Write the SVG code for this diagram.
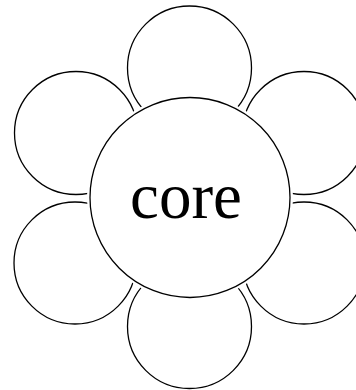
<svg xmlns="http://www.w3.org/2000/svg" width="356" height="390" viewBox="0 0 356 390">
<style>
.petal{fill:#fff;stroke:#000;stroke-width:1.3}
.halo{fill:#fff;stroke:#fff;stroke-width:6}
.core{fill:#fff;stroke:#000;stroke-width:1.3}
</style>
<rect width="356" height="390" fill="#fff"/>
<g id="petal-top"><circle class="petal" cx="189.5" cy="68" r="62"/></g>
<g id="petal-upper-left"><circle class="petal" cx="76" cy="133" r="61.5"/></g>
<g id="petal-upper-right"><circle class="petal" cx="304" cy="133" r="61.5"/></g>
<g id="petal-lower-left"><circle class="petal" cx="75" cy="263" r="61"/></g>
<g id="petal-lower-right"><circle class="petal" cx="304" cy="263" r="61"/></g>
<g id="petal-bottom"><circle class="petal" cx="189.5" cy="326.5" r="62"/></g>
<g id="connectors"></g>
<g id="core">
<circle class="halo" cx="190" cy="197.5" r="100"/>
<circle class="core" cx="190" cy="197.5" r="100"/>
<text x="186" y="218" text-anchor="middle" font-family="'Liberation Serif', 'DejaVu Serif', 'Times New Roman', Times, serif" font-size="65" fill="#000">core</text>
</g>
</svg>
